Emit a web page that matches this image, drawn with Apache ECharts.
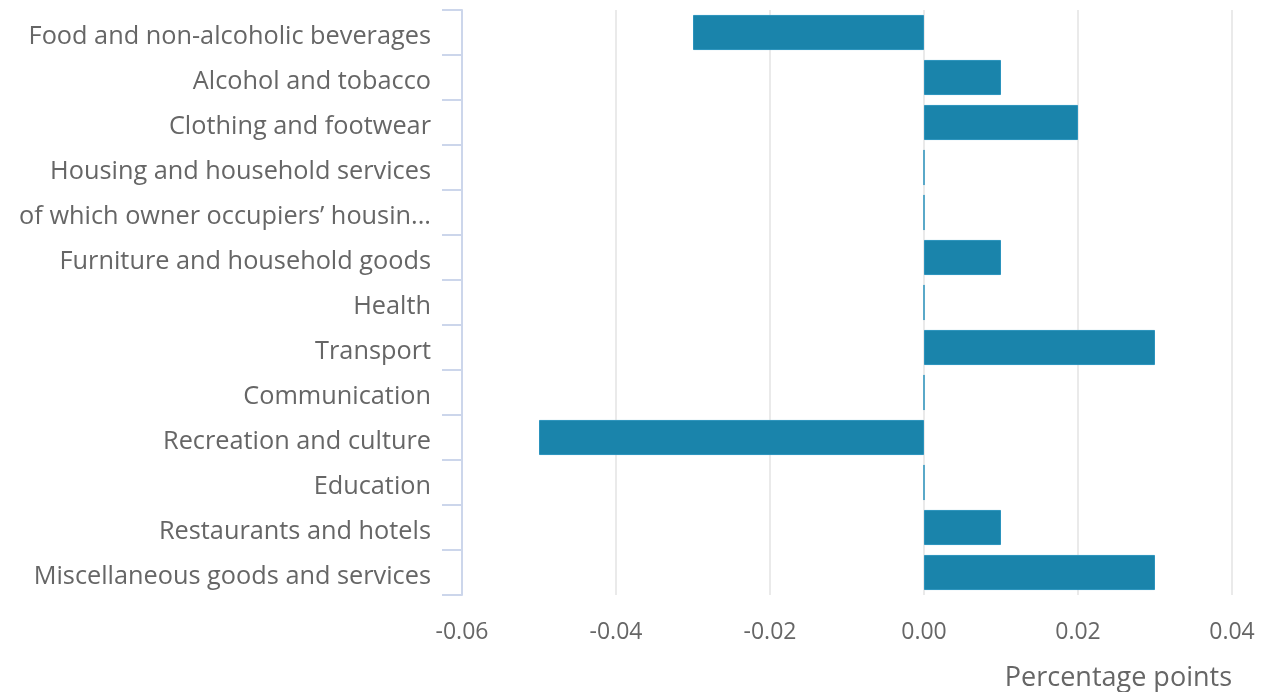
<!DOCTYPE html>
<html>
<head>
<meta charset="utf-8">
<script src="https://cdn.jsdelivr.net/npm/echarts@6/dist/echarts.min.js"></script>
<style>html,body{margin:0;padding:0;background:#fff}#c{width:1264px;height:692px}</style>
</head>
<body>
<div id="c"></div>
<script>
const categories = [
  "Food and non-alcoholic beverages",
  "Alcohol and tobacco",
  "Clothing and footwear",
  "Housing and household services",
  "of which owner occupiers\u2019 housing costs",
  "Furniture and household goods",
  "Health",
  "Transport",
  "Communication",
  "Recreation and culture",
  "Education",
  "Restaurants and hotels",
  "Miscellaneous goods and services"
];
const values = [-0.03, 0.01, 0.02, 0, 0, 0.01, 0, 0.03, 0, -0.05, 0, 0.01, 0.03];
const axisName = "Percentage points";

const chart = echarts.init(document.getElementById('c'), null, {renderer: 'canvas'});
const font = "'Open Sans', sans-serif";
chart.setOption({
  animation: false,
  grid: {left: 462, right: 32, top: 10, bottom: 97, containLabel: false},
  xAxis: {
    type: 'value', min: -0.06, max: 0.04, interval: 0.02,
    axisLine: {show: false}, axisTick: {show: false},
    splitLine: {lineStyle: {color: '#e3e3e3', width: 1.5}},
    axisLabel: {color: '#666666', fontFamily: font, fontSize: 23, margin: 26,
      formatter: v => v.toFixed(2)},
    name: axisName, nameLocation: 'end', nameGap: 0,
    nameTextStyle: {color: '#666666', fontFamily: font, fontSize: 27, align: 'right', verticalAlign: 'top', padding: [70, 0, 0, 0]}
  },
  yAxis: {
    type: 'category', data: categories, inverse: true,
    axisLine: {show: true, onZero: false, lineStyle: {color: '#ccd6eb', width: 2}},
    axisTick: {show: true, length: 20, lineStyle: {color: '#ccd6eb', width: 2}},
    axisLabel: {color: '#666666', fontFamily: font, fontSize: 25.3, margin: 31,
      verticalAlign: 'top', lineHeight: 8,
      width: 423, overflow: 'truncate', ellipsis: '...'},
    splitLine: {show: false}
  },
  series: [{
    type: 'bar', data: values, barCategoryGap: '22%',
    itemStyle: {color: '#1a84ab', borderColor: '#2b93bd', borderWidth: 1}
  }]
});
</script>
</body>
</html>
